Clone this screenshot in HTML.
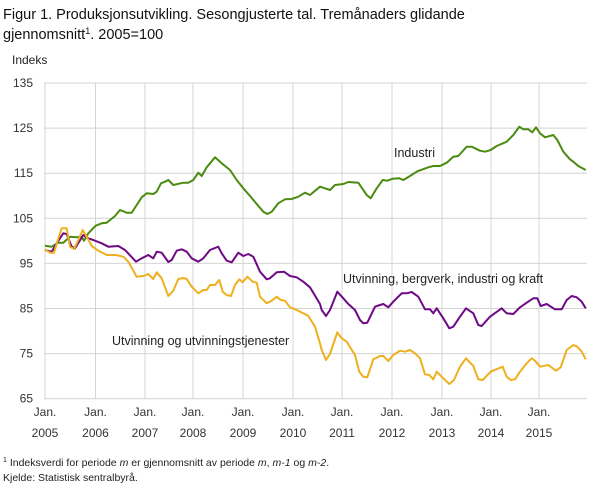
<!DOCTYPE html>
<html><head><meta charset="utf-8"><style>
body{margin:0;background:#fff;width:609px;height:488px;overflow:hidden;font-family:"Liberation Sans",sans-serif;}
</style></head><body>
<svg width="609" height="488" viewBox="0 0 609 488" xmlns="http://www.w3.org/2000/svg" font-family="Liberation Sans, sans-serif">
<text x="3" y="19" font-size="14.5" fill="#111">Figur 1. Produksjonsutvikling. Sesongjusterte tal. Tremånaders glidande</text>
<text x="3" y="39" font-size="14.5" fill="#111">gjennomsnitt<tspan font-size="9" dy="-5">1</tspan><tspan dy="5">. 2005=100</tspan></text>
<text x="12" y="64" font-size="12" fill="#222">Indeks</text>
<g stroke="#d4d4d4" stroke-width="1" id="grid"></g>
<g font-size="12" fill="#333" text-anchor="end" id="ylab"></g>
<g font-size="12" fill="#333" text-anchor="middle" id="xlab"></g>
<g fill="none" stroke-width="2" stroke-linejoin="round">
<polyline id="g" stroke="#4b8b10"/>
<polyline id="p" stroke="#6d0a84"/>
<polyline id="y" stroke="#eeb01f"/>
</g>
<text x="394" y="157" font-size="12.5" fill="#222">Industri</text>
<text x="343" y="283" font-size="12.5" fill="#222">Utvinning, bergverk, industri og kraft</text>
<text x="112" y="345" font-size="12.5" fill="#222">Utvinning og utvinningstjenester</text>
<text x="3" y="466" font-size="10.5" fill="#222"><tspan font-size="7" dy="-4">1</tspan><tspan dy="4"> Indeksverdi for periode </tspan><tspan font-style="italic">m</tspan> er gjennomsnitt av periode <tspan font-style="italic">m</tspan>, <tspan font-style="italic">m-1</tspan> og <tspan font-style="italic">m-2</tspan>.</text>
<text x="3" y="481" font-size="10.5" fill="#222">Kjelde: Statistisk sentralbyrå.</text>
</svg>
<script>
var NS="http://www.w3.org/2000/svg";
function el(p,t,a,txt){var e=document.createElementNS(NS,t);for(var k in a)e.setAttribute(k,a[k]);if(txt)e.textContent=txt;p.appendChild(e);}
var grid=document.getElementById('grid'),yl=document.getElementById('ylab'),xl=document.getElementById('xlab');
var vals=[135,125,115,105,95,85,75,65];
for(var i=0;i<8;i++){var y=83+i*45.1;el(grid,'line',{x1:44,x2:587,y1:y,y2:y});el(yl,'text',{x:33,y:y+4},String(vals[i]));}
var xs=[45,95.5,145,193,243,293,342,392,442,491,539];
for(var i=0;i<xs.length;i++){el(grid,'line',{x1:xs[i],x2:xs[i],y1:83,y2:399});el(xl,'text',{x:xs[i],y:416},'Jan.');el(xl,'text',{x:xs[i],y:437},String(2005+i));}
function pts(a,b,ox){var s=[],lx=0;for(var i=0;i<a.length;i+=2){lx=ox+a[i]/3;s.push(lx.toFixed(1)+','+(80+a[i+1]/3).toFixed(1));}for(var i=0;i<b.length;i+=2){var x=300+b[i]/3;if(x<=lx+1)continue;s.push(x.toFixed(1)+','+(80+b[i+1]/3).toFixed(1));}return s.join(' ');}
var g1=[45,497,65,500,85,488,100,488,120,470,140,472,155,470,162,482,175,460,197,437,215,430,230,428,255,408,270,390,290,398,305,398,320,375,335,352,350,340,370,342,380,335,393,310,405,305,415,300,430,315,460,308,475,308,490,300,505,278,515,288,530,262,555,232,575,250,600,270,620,300,640,325,660,348,680,372,700,395,712,402,725,395,745,370,765,358,785,357,805,350,825,338,840,345,870,320];
var g2=[15,340,30,345,60,322,75,325,90,330,105,315,130,312,145,306,175,308,200,345,212,355,230,325,248,300,262,302,278,296,298,295,310,300,330,288,352,274,385,262,400,258,420,258,440,248,460,230,475,228,500,200,515,200,540,212,555,215,572,210,590,198,620,185,640,165,658,140,670,148,685,148,697,157,708,142,720,160,735,172,760,165,772,180,790,215,810,238,820,245,835,258,857,270];
var p1=[45,510,65,515,80,490,100,460,110,462,125,500,135,505,160,465,175,475,190,480,215,490,235,500,265,498,285,510,318,545,335,535,355,525,370,535,380,515,395,518,415,546,425,540,440,512,455,508,470,515,485,535,505,545,520,535,540,510,565,500,575,520,590,542,605,547,625,518,640,528,655,522,670,530,690,575,710,598,720,595,740,577,762,575,780,588,800,592,820,605,840,622,870,672];
var p2=[20,615,45,645,65,690,78,708,90,690,112,635,130,655,145,672,165,690,180,720,190,730,202,728,225,680,240,675,250,672,265,682,280,665,305,640,320,640,335,636,355,650,375,688,390,688,400,700,410,685,430,715,448,745,460,740,480,710,498,685,520,700,535,735,545,738,570,710,605,685,620,700,640,702,660,682,680,668,700,655,712,655,722,678,740,672,765,688,785,688,800,660,815,648,830,652,845,665,857,685];
var y1=[45,508,60,518,72,518,85,475,95,445,110,445,120,500,132,507,145,480,158,450,170,470,185,498,205,512,230,525,258,525,280,530,295,545,320,590,340,588,355,582,370,597,380,577,395,595,415,648,430,632,445,597,460,594,470,597,485,620,505,640,520,630,530,630,540,615,555,615,568,600,578,635,590,645,603,648,615,615,628,598,638,607,652,590,668,605,680,608,690,650,710,670,725,662,740,650,752,660,765,662,780,682,800,690,820,700,835,708,855,740,870,790];
var y2=[20,705,40,740,55,750,65,810,78,840,90,822,112,757,125,775,140,785,165,825,178,875,190,890,202,892,220,838,240,828,250,828,265,843,280,825,300,812,315,815,330,810,345,820,360,835,375,883,388,885,400,898,410,875,425,890,448,912,462,900,480,860,498,835,520,858,535,898,548,900,572,875,608,860,620,890,632,900,645,898,660,875,680,850,695,835,705,842,720,860,745,855,768,872,782,862,800,810,820,795,832,800,845,815,857,838];
document.getElementById('g').setAttribute('points',pts(g1,g2,30));
document.getElementById('p').setAttribute('points',pts(p1,p2,30));
document.getElementById('y').setAttribute('points',pts(y1,y2,30));
</script>
</body></html>
